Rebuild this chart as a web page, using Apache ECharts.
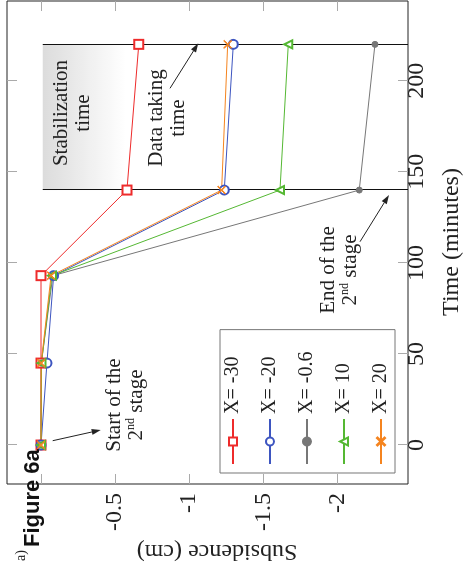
<!DOCTYPE html>
<html><head><meta charset="utf-8">
<script src="https://cdn.jsdelivr.net/npm/echarts@6/dist/echarts.min.js"></script>
<style>
html,body{margin:0;padding:0;background:#fff;overflow:hidden;}
#wrap{position:absolute;left:0;top:0;width:466px;height:577px;overflow:hidden;background:#fff;}
#chart{position:absolute;left:0;top:0;width:577px;height:466px;transform-origin:0 0;transform:translateY(577px) rotate(-90deg);}
</style></head>
<body><div id="wrap"><div id="chart"></div></div>
<script>
// ---- data ----
const times = [0, 45, 93, 140, 220];
const seriesNames = ['X= -30', 'X= -20', 'X= -0.6', 'X= 10', 'X= 20'];
const subsidenceXm30 = [0, 0, 0, -0.58, -0.66];
const subsidenceXm20 = [0, -0.04, -0.085, -1.237, -1.298];
const subsidenceXm06 = [0, -0.002, -0.08, -2.148, -2.254];
const subsidenceX10 = [0, -0.003, -0.074, -1.613, -1.669];
const subsidenceX20 = [0, -0.001, -0.068, -1.219, -1.26];
const timeTicks = [0, 50, 100, 150, 200];
const subsidenceTicks = [-2, -1.5, -1, -0.5, 0];
const subsidenceLabels = [-2, -1.5, -1, -0.5];
const stageTimes = [140, 220];
const stabilizationDepth = [-0.012, -0.57];
const subsidenceRange = [-2.477, 0.2295];
const timeRange = [-21.4, 243.8];

const allValues = [subsidenceXm30, subsidenceXm20, subsidenceXm06, subsidenceX10, subsidenceX20];
const colors = ['#ee2b2b', '#3d55c0', '#777777', '#55b833', '#f5841f'];
const crossPath = 'path://M0,0.7L0.7,0L5,4.3L9.3,0L10,0.7L5.7,5L10,9.3L9.3,10L5,5.7L0.7,10L0,9.3L4.3,5Z';
const symbols = ['emptyRect', 'emptyCircle', 'circle', 'emptyTriangle', crossPath];
const symbolSizes = [9, 9, 6, 8, 8];

const serif = '"Liberation Serif", "Times New Roman", serif';
const chart = echarts.init(document.getElementById('chart'), null, {renderer: 'canvas'});

function arrow(x1, y1, x2, y2) {
  const dx = x2 - x1, dy = y2 - y1, L = Math.hypot(dx, dy), ux = dx / L, uy = dy / L;
  const hl = 9, hw = 3;
  const bx = x2 - ux * hl, by = y2 - uy * hl;
  return [
    {type: 'line', shape: {x1: x1, y1: y1, x2: bx, y2: by}, style: {stroke: '#222', lineWidth: 1}, z: 50},
    {type: 'polygon', shape: {points: [[x2, y2], [bx - uy * hw, by + ux * hw], [bx + uy * hw, by - ux * hw]]}, style: {fill: '#222'}, z: 50}
  ];
}
function note(x, y, text, extra) {
  return Object.assign({
    type: 'text', x: x, y: y, z: 50,
    style: {
      text: text, fill: '#222', fontFamily: serif, fontSize: 21, lineHeight: 22,
      align: 'center', verticalAlign: 'middle',
      rich: {sup: {fontSize: 12, fontFamily: serif, fill: '#222', verticalAlign: 'top', lineHeight: 22}}
    }
  }, extra || {});
}

const dataSeries = allValues.map((vals, i) => ({
  name: seriesNames[i], type: 'line', z: 5,
  data: times.map((t, j) => [t, vals[j]]),
  symbol: symbols[i], symbolSize: symbolSizes[i], showAllSymbol: true,
  lineStyle: {color: colors[i], width: 1},
  itemStyle: {color: colors[i], borderColor: colors[i], borderWidth: 1},
  emphasis: {disabled: true}, animation: false
}));

const helper = {
  name: 'helper', type: 'line', z: 1, data: [[stageTimes[0], 0]], symbol: 'none',
  lineStyle: {opacity: 0}, silent: true, animation: false,
  markArea: {
    silent: true, label: {show: false},
    itemStyle: {color: new echarts.graphic.LinearGradient(0, 0, 0, 1, [
      {offset: 0, color: '#dcdcdc'}, {offset: 1, color: '#ffffff'}])},
    data: [[{coord: [stageTimes[0], stabilizationDepth[0]]}, {coord: [stageTimes[1], stabilizationDepth[1]]}]]
  },
  markLine: {
    silent: true, symbol: 'none', label: {show: false},
    lineStyle: {color: '#111', width: 1, type: 'solid'},
    data: stageTimes.map(t => [{coord: [t, stabilizationDepth[0]]}, {coord: [t, subsidenceRange[0]]}])
  }
};

const tickStyle = {inside: true, length: 10, lineStyle: {color: '#aaaaaa', width: 1}};
const noLine = {show: false, onZero: false};

chart.setOption({
  animation: false,
  backgroundColor: '#fff',
  grid: {left: 93, right: 1, top: 7, bottom: 58, show: true, borderColor: '#222', borderWidth: 1, backgroundColor: 'transparent'},
  xAxis: [
    {type: 'value', position: 'bottom', min: timeRange[0], max: timeRange[1],
     axisLine: noLine, splitLine: {show: false},
     axisTick: Object.assign({customValues: timeTicks}, tickStyle),
     axisLabel: {customValues: timeTicks, fontFamily: serif, fontSize: 24, color: '#222', margin: -3}},
    {type: 'value', position: 'top', min: timeRange[0], max: timeRange[1],
     axisLine: noLine, splitLine: {show: false},
     axisTick: Object.assign({customValues: timeTicks}, tickStyle),
     axisLabel: {show: false}}
  ],
  yAxis: [
    {type: 'value', position: 'left', min: subsidenceRange[0], max: subsidenceRange[1],
     axisLine: noLine, splitLine: {show: false},
     axisTick: Object.assign({customValues: subsidenceTicks}, tickStyle),
     axisLabel: {customValues: subsidenceLabels, fontFamily: serif, fontSize: 24, color: '#222', margin: 9}},
    {type: 'value', position: 'right', min: subsidenceRange[0], max: subsidenceRange[1],
     axisLine: noLine, splitLine: {show: false},
     axisTick: Object.assign({customValues: subsidenceTicks}, tickStyle),
     axisLabel: {show: false}}
  ],
  legend: {
    data: seriesNames, orient: 'vertical', left: 104, top: 220,
    padding: [3, 22, 4, 8], itemGap: 17, itemWidth: 45, itemHeight: 10,
    borderColor: '#777', borderWidth: 1, backgroundColor: '#fff',
    textStyle: {fontFamily: serif, fontSize: 20, color: '#222', lineHeight: 20},
    selectedMode: false
  },
  graphic: [
    {type: 'text', x: 335, y: 452, z: 50, style: {text: 'Time (minutes)', fill: '#222', fontFamily: serif, fontSize: 24, align: 'center', verticalAlign: 'middle'}},
    {type: 'text', x: 26, y: 217, rotation: Math.PI / 2, z: 50, style: {text: 'Subsidence (cm)', fill: '#222', fontFamily: serif, fontSize: 24, align: 'center', verticalAlign: 'middle'}},
    note(464, 72, 'Stabilization\ntime'),
    note(459, 167, 'Data taking\ntime'),
    note(307, 339, 'End of the\n2{sup|nd} stage'),
    note(172, 125, 'Start of the\n2{sup|nd} stage'),
    ...arrow(488.7, 170, 533.7, 198.3),
    ...arrow(335.3, 360, 382, 389),
    ...arrow(136.3, 52.7, 147, 100.7),
    {type: 'text', x: 30, y: 33, z: 60, style: {text: 'Figure 6a', fill: '#111', fontFamily: '"Liberation Sans", Arial, sans-serif', fontWeight: 'bold', fontSize: 22, align: 'left', verticalAlign: 'middle'}},
    {type: 'text', x: 27, y: 21, z: 60, style: {text: 'a)', fill: '#222', fontFamily: serif, fontSize: 14, align: 'right', verticalAlign: 'middle'}}
  ],
  series: [helper].concat(dataSeries)
});
</script>
</body></html>
